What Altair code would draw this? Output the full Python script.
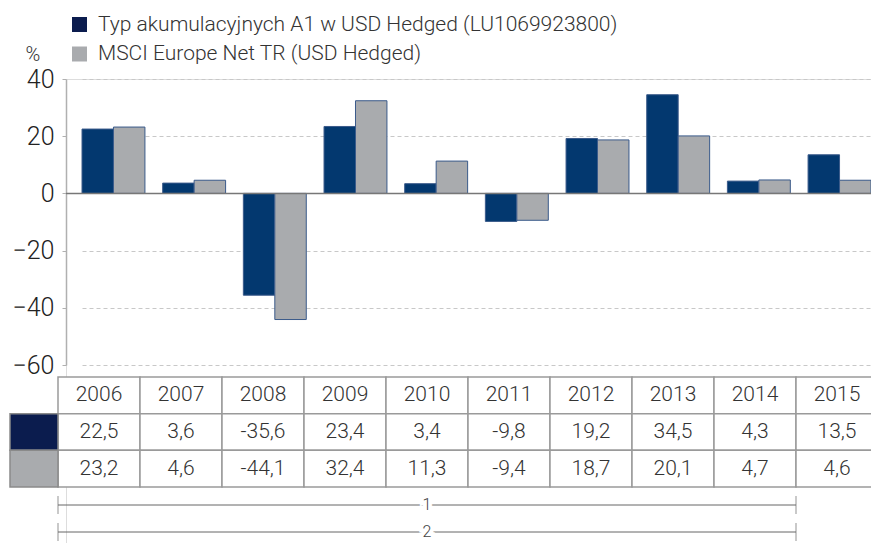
import altair as alt
import pandas as pd

# ---- data ----
years = ["2006", "2007", "2008", "2009", "2010", "2011", "2012", "2013", "2014", "2015"]
fund = [22.5, 3.6, -35.6, 23.4, 3.4, -9.8, 19.2, 34.5, 4.3, 13.5]
bench = [23.2, 4.6, -44.1, 32.4, 11.3, -9.4, 18.7, 20.1, 4.7, 4.6]
series_names = ["Typ akumulacyjnych A1 w USD Hedged (LU1069923800)",
                "MSCI Europe Net TR (USD Hedged)"]
y_ticks = [-60, -40, -20, 0, 20, 40]
baseline = [0]
bracket_labels = ["1", "2"]
bracket_start = ["2006", "2006"]
bracket_end = ["2014", "2014"]

FONT = "Roboto"
FW = 300
bar_colors = ["#03386f", "#a9abae"]
swatch_colors = ["#0b1c4e", "#a9abae"]

# ---- tables built from the arrays ----
bars_df = pd.DataFrame(
    [{"year": y, "series": series_names[0], "value": v} for y, v in zip(years, fund)]
    + [{"year": y, "series": series_names[1], "value": v} for y, v in zip(years, bench)]
)

def fmt(v):
    return f"{v:.1f}".replace(".", ",")

rows = ["hdr", "fund", "bench"]
table_df = pd.DataFrame(
    [{"col": y, "row": "hdr", "txt": y} for y in years]
    + [{"col": y, "row": "fund", "txt": fmt(v)} for y, v in zip(years, fund)]
    + [{"col": y, "row": "bench", "txt": fmt(v)} for y, v in zip(years, bench)]
)
swatch_df = pd.DataFrame({"sw": ["sw", "sw"], "row": ["fund", "bench"], "series": series_names})
br_df = pd.DataFrame({
    "lab": bracket_labels,
    "x0": [years.index(s) for s in bracket_start],
    "x1": [years.index(e) + 1 for e in bracket_end],
})
br_df["xm"] = (br_df["x0"] + br_df["x1"]) / 2

W, H = 805, 464

# ---- scales ----
xbar = alt.Scale(domain=years, range=[16, 805], paddingInner=0.22, paddingOuter=0)
ybar = alt.Scale(domain=[-60, 40], range=[286, 0], nice=False, zero=False)
xtab = alt.Scale(domain=years, range=[-8, 812], paddingInner=0, paddingOuter=0)
ytab = alt.Scale(domain=rows, range=[298, 408], paddingInner=0, paddingOuter=0)
xsw = alt.Scale(domain=["sw"], range=[-56, -8], paddingInner=0, paddingOuter=0)
xbr = alt.Scale(domain=[0, 10], range=[-8, 812], nice=False, zero=False)
ybr = alt.Scale(type="point", domain=bracket_labels, range=[426, 453], padding=0)

# ---- bars ----
bars = alt.Chart(bars_df).mark_bar(stroke="#3a5a8a", strokeWidth=1).encode(
    x=alt.X("year:N", scale=xbar, axis=None),
    xOffset=alt.XOffset("series:N", scale=alt.Scale(domain=series_names, paddingInner=0, paddingOuter=0)),
    y=alt.Y("value:Q", scale=ybar,
            axis=alt.Axis(values=y_ticks, grid=True, gridDash=[4, 3], gridColor="#c8c8c8",
                          domainColor="#b0b0b0", domainWidth=1.5, tickColor="#b0b0b0",
                          tickSize=4, labelFontSize=25, labelFont=FONT, labelFontWeight=FW,
                          labelColor="#222", labelPadding=8, title="%", titleAngle=0,
                          titleX=-41, titleY=-25, titleAlign="left", titleBaseline="middle",
                          titleFontSize=20, titleFont=FONT, titleFontWeight=FW, titleColor="#333")),
    y2=alt.datum(0),
    color=alt.Color("series:N", scale=alt.Scale(domain=series_names, range=bar_colors), legend=None),
)

zero = alt.Chart(pd.DataFrame({"v": baseline})).mark_rule(color="#777", strokeWidth=1.5).encode(
    y=alt.Y("v:Q", scale=ybar, axis=None)
)

# ---- table ----
cells = alt.Chart(table_df).mark_rect(fill="white", stroke="#9a9a9a", strokeWidth=1.5).encode(
    x=alt.X("col:N", scale=xtab, axis=None),
    y=alt.Y("row:N", scale=ytab, axis=None),
)
cell_text = alt.Chart(table_df).mark_text(font=FONT, fontWeight=FW, fontSize=21, color="#333").encode(
    x=alt.X("col:N", scale=xtab, axis=None),
    y=alt.Y("row:N", scale=ytab, axis=None),
    text="txt:N",
)
swatch = alt.Chart(swatch_df).mark_rect(stroke="#8a8a8a", strokeWidth=1.5).encode(
    x=alt.X("sw:N", scale=xsw, axis=None),
    y=alt.Y("row:N", scale=ytab, axis=None),
    color=alt.Color("series:N", scale=alt.Scale(domain=series_names, range=swatch_colors),
                    legend=alt.Legend(title=None, orient="none", legendX=3, legendY=-65,
                                      symbolType="square", symbolSize=225, symbolStrokeWidth=0,
                                      labelFont=FONT, labelFontWeight=FW, labelFontSize=21,
                                      labelColor="#333", labelOffset=8, rowPadding=7.5,
                                      padding=0, labelLimit=0)),
)

# ---- brackets ----
br_line = alt.Chart(br_df).mark_rule(color="#666", strokeWidth=1).encode(
    x=alt.X("x0:Q", scale=xbr, axis=None), x2="x1:Q",
    y=alt.Y("lab:N", scale=ybr, axis=None),
)
br_t0 = alt.Chart(br_df).mark_tick(orient="vertical", size=18, thickness=1, color="#666").encode(
    x=alt.X("x0:Q", scale=xbr, axis=None), y=alt.Y("lab:N", scale=ybr, axis=None),
)
br_t1 = alt.Chart(br_df).mark_tick(orient="vertical", size=18, thickness=1, color="#666").encode(
    x=alt.X("x1:Q", scale=xbr, axis=None), y=alt.Y("lab:N", scale=ybr, axis=None),
)
br_gap = alt.Chart(br_df).mark_text(font=FONT, fontWeight=FW, fontSize=16, color="white",
                                    stroke="white", strokeWidth=8).encode(
    x=alt.X("xm:Q", scale=xbr, axis=None), y=alt.Y("lab:N", scale=ybr, axis=None), text="lab:N",
)
br_text = alt.Chart(br_df).mark_text(font=FONT, fontWeight=FW, fontSize=16, color="#444").encode(
    x=alt.X("xm:Q", scale=xbr, axis=None), y=alt.Y("lab:N", scale=ybr, axis=None), text="lab:N",
)

chart = alt.layer(
    bars, zero, cells, cell_text, swatch, br_line, br_t0, br_t1, br_gap, br_text
).resolve_scale(
    x="independent", y="independent", color="independent", xOffset="independent"
).properties(
    width=W, height=H,
    autosize=alt.AutoSizeParams(type="none"),
    padding={"left": 58, "top": 71, "right": 0, "bottom": 0},
).configure_view(stroke=None).configure(background="white")

chart.save("out.html", embed_options={"renderer": "svg", "actions": False})
